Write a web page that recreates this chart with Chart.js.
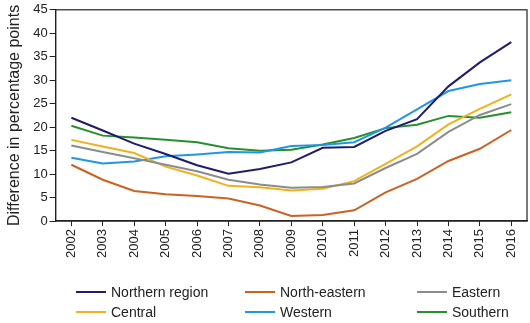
<!DOCTYPE html>
<html lang="en">
<head>
    <meta charset="utf-8">
    <title>Regional difference</title>
    <script src="https://cdn.jsdelivr.net/npm/chart.js"></script>
    <style>
        html, body { margin: 0; padding: 0; background: #fff; }
        .wrap { position: relative; width: 530px; height: 323px; }
        #legend { position: absolute; left: 0; top: 0; width: 530px; height: 323px; pointer-events: none;
                  font-family: "Liberation Sans", Arial, sans-serif; font-size: 14px; color: #222; }
        .item { position: absolute; display: flex; align-items: center; white-space: nowrap; }
        .swatch { display: inline-block; width: 30px; height: 2px; margin-right: 5px; }
    </style>
</head>
<body>
<div class="wrap">
    <canvas id="regionChart" width="530" height="323"></canvas>
    <div id="legend"></div>
</div>
<script>
    // years on the x axis
    const years = ['2002', '2003', '2004', '2005', '2006', '2007', '2008', '2009',
                   '2010', '2011', '2012', '2013', '2014', '2015', '2016'];

    // difference in percentage points per region
    const northern     = [22.0, 19.3, 16.5, 14.3, 11.9, 10.1, 11.1, 12.5, 15.6, 15.8, 19.2, 21.7, 28.7, 33.8, 38.1];
    const northEastern = [12.0, 8.8, 6.4, 5.7, 5.35, 4.8, 3.3, 1.1, 1.3, 2.3, 6.1, 9.0, 12.8, 15.4, 19.4];
    const eastern      = [16.1, 14.7, 13.4, 12.0, 10.6, 8.8, 7.8, 7.1, 7.25, 8.0, 11.3, 14.3, 19.0, 22.6, 24.9];
    const central      = [17.3, 15.9, 14.5, 11.6, 9.7, 7.5, 7.2, 6.5, 6.9, 8.5, 12.2, 15.9, 20.6, 23.9, 27.0];
    const western      = [13.5, 12.25, 12.7, 13.8, 14.2, 14.7, 14.6, 16.0, 16.2, 16.8, 19.9, 23.8, 27.7, 29.2, 30.0];
    const southern     = [20.3, 18.2, 17.8, 17.3, 16.8, 15.5, 15.0, 15.2, 16.3, 17.7, 19.8, 20.5, 22.4, 22.0, 23.2];

    const seriesNames = ['Northern region', 'North-eastern', 'Eastern', 'Central', 'Western', 'Southern'];
    const seriesData = [northern, northEastern, eastern, central, western, southern];
    const seriesColors = ['#1f1c6e', '#cc6222', '#8c8c8c', '#f0b11c', '#2196e6', '#26902e'];

    const textColor = '#222';
    const axisColor = '#222';

    // frame around the plot area
    const framePlugin = {
        id: 'frame',
        afterDraw(chart) {
            const a = chart.chartArea;
            const c = chart.ctx;
            c.save();
            c.strokeStyle = axisColor;
            c.lineWidth = 1.2;
            c.strokeRect(a.left, a.top, a.right - a.left, a.bottom - a.top);
            c.restore();
        }
    };

    const chart = new Chart(document.getElementById('regionChart'), {
        type: 'line',
        data: {
            labels: years,
            datasets: seriesNames.map((name, i) => ({
                label: name,
                data: seriesData[i],
                borderColor: seriesColors[i],
                backgroundColor: seriesColors[i],
                borderWidth: 2,
                pointRadius: 0,
                tension: 0,
                fill: false
            }))
        },
        options: {
            responsive: false,
            animation: false,
            devicePixelRatio: 1,
            layout: { padding: { top: 3, right: 3, left: 5, bottom: 62 } },
            plugins: {
                legend: { display: false },
                tooltip: { enabled: false }
            },
            scales: {
                x: {
                    offset: true,
                    grid: { drawOnChartArea: false, tickLength: 5, color: axisColor },
                    border: { color: axisColor, width: 1.2 },
                    ticks: {
                        minRotation: 90, maxRotation: 90, padding: 3,
                        color: textColor,
                        font: { family: '"Liberation Sans", Arial, sans-serif', size: 13 }
                    }
                },
                y: {
                    min: 0,
                    max: 45,
                    grid: { drawOnChartArea: false, tickLength: 6, color: axisColor },
                    border: { color: axisColor, width: 1.2 },
                    ticks: {
                        stepSize: 5, padding: 2,
                        color: textColor,
                        font: { family: '"Liberation Sans", Arial, sans-serif', size: 13 }
                    },
                    title: {
                        display: true,
                        text: 'Difference in percentage points',
                        color: textColor,
                        padding: { top: 0, bottom: 7 },
                        font: { family: '"Liberation Sans", Arial, sans-serif', size: 16 }
                    }
                }
            }
        },
        plugins: [framePlugin]
    });

    // legend in three columns, two rows
    const legendEl = document.getElementById('legend');
    const colX = [76, 245, 417];
    const rowY = [292, 312];
    seriesNames.forEach((name, i) => {
        const item = document.createElement('div');
        item.className = 'item';
        item.style.left = colX[i % 3] + 'px';
        item.style.top = (rowY[Math.floor(i / 3)] - 8) + 'px';
        item.innerHTML = '<span class="swatch" style="background:' + seriesColors[i] + '"></span>' + name;
        legendEl.appendChild(item);
    });
</script>
</body>
</html>
